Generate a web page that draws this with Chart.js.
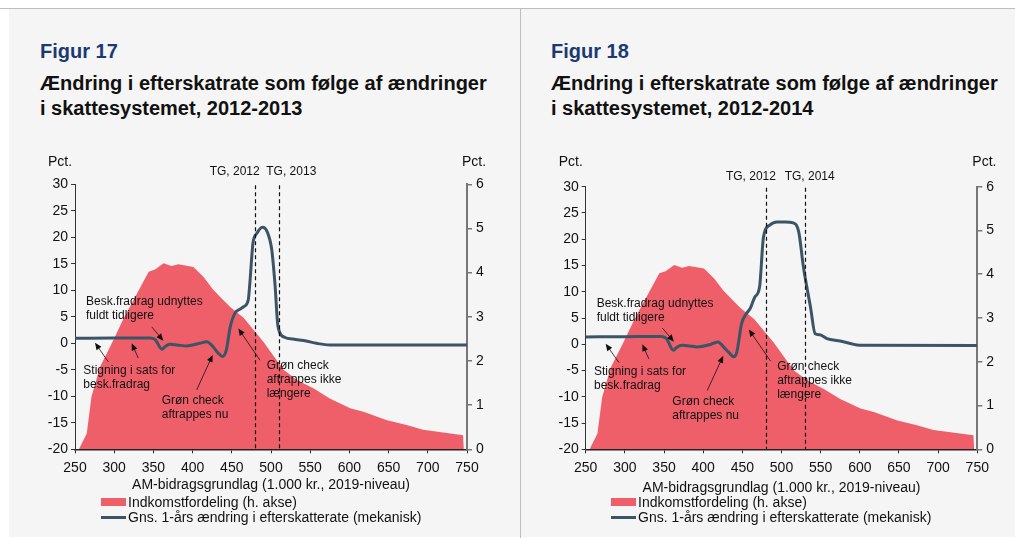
<!DOCTYPE html>
<html lang="da">
<head>
<meta charset="UTF-8">
<title>Figur 17 og 18</title>
<script src="https://cdn.jsdelivr.net/npm/chart.js"></script>
<style>
    body {
        margin: 0;
        width: 1015px;
        height: 538px;
        background: #fff;
        font-family: "Liberation Sans", Arial, sans-serif;
        position: relative;
        overflow: hidden;
    }
    .topline { position: absolute; left: 0; top: 8px; width: 1015px; height: 1px; background: #bdbdbd; }
    .panel { position: absolute; top: 9px; height: 528px; background: #f5f5f5; }
    .sep { position: absolute; left: 520px; top: 9px; width: 1px; height: 529px; background: #bdbdbd; }
    .fig { position: absolute; font-size: 20px; font-weight: bold; color: #1b3a73; line-height: 25px; }
    .title { position: absolute; font-size: 20px; font-weight: bold; color: #111; line-height: 25px; white-space: nowrap; }
    canvas { position: absolute; }
    .legend { position: absolute; font-size: 14px; color: #111; }
    .legend div { position: relative; height: 15px; line-height: 15px; padding-left: 27px; white-space: nowrap; }
    .sw-area { position: absolute; left: 0; top: 3px; width: 25px; height: 8px; background: #ee5f6a; }
    .sw-line { position: absolute; left: 0; top: 6px; width: 25px; height: 3px; background: #3b5566; }
</style>
</head>
<body>
<div class="topline"></div>
<div class="panel" style="left:9px;width:511px"></div>
<div class="panel" style="left:521px;width:494px"></div>
<div class="sep"></div>

<div class="fig" style="left:40px;top:39px">Figur 17</div>
<div class="title" style="left:40px;top:71px">Ændring i efterskatrate som følge af ændringer<br>i skattesystemet, 2012-2013</div>
<canvas id="fig17" width="490" height="347" style="left:20px;top:150px"></canvas>
<div class="legend" style="left:101px;top:495px">
    <div><span class="sw-area"></span>Indkomstfordeling (h. akse)</div>
    <div><span class="sw-line"></span>Gns. 1-års ændring i efterskatterate (mekanisk)</div>
</div>

<div class="fig" style="left:551px;top:39px">Figur 18</div>
<div class="title" style="left:551px;top:71px">Ændring i efterskatrate som følge af ændringer<br>i skattesystemet, 2012-2014</div>
<canvas id="fig18" width="484" height="350" style="left:531px;top:150px"></canvas>
<div class="legend" style="left:611px;top:495px">
    <div><span class="sw-area"></span>Indkomstfordeling (h. akse)</div>
    <div><span class="sw-line"></span>Gns. 1-års ændring i efterskatterate (mekanisk)</div>
</div>

<script>
// indkomstfordeling (h. akse), 1.000 kr. og pct.
const incomeX = [255, 265, 271, 282, 297, 312, 320, 344, 352, 363, 373, 382, 401, 414, 426, 439, 448, 465,
    490, 507, 516, 533, 554, 575, 601, 618, 648, 673, 694, 745, 746];
const incomeShare = [0, 0.36, 1.19, 1.87, 2.4, 2.96, 3.23, 4.02, 4.07, 4.21, 4.15, 4.19, 4.13, 3.9, 3.62, 3.38, 3.22, 2.98,
    2.44, 2.02, 1.8, 1.57, 1.38, 1.15, 0.93, 0.85, 0.66, 0.55, 0.44, 0.32, 0];

// gns. ændring i efterskatterate, 2012-2013
const rateX17 = [250, 300, 346, 352, 361, 365, 371, 380, 392, 409, 418, 424, 433, 438, 443, 448, 454, 460, 465,
    471, 473, 477, 482, 489, 495, 501, 505, 509, 518, 528, 545, 558, 575, 750];
const rate17 = [0.95, 0.98, 1.0, 0.75, -1.1, -0.6, -0.2, -0.3, -0.5, 0, 0.3, -0.3, -1.9, -2.5, -1.3, 3.1, 5.7, 6.4, 6.9,
    8.2, 11.3, 18.9, 20.75, 21.9, 21.1, 17.6, 11.3, 3.1, 1.1, 0.8, 0.43, 0, -0.32, -0.32];

// gns. ændring i efterskatterate, 2012-2014
const rateX18 = [250, 300, 347, 353, 362, 366, 373, 392, 410, 419, 426, 433, 439, 443, 449, 455, 460, 466, 472,
    477, 485, 494, 505, 515, 522, 528, 537, 543, 549, 558, 575, 588, 600, 750];
const rate18 = [1.4, 1.45, 1.5, 1.08, -1.14, -0.6, -0.19, -0.5, 0, 0.44, -0.5, -1.6, -2.4, -1.46, 3.9, 5.8, 6.8, 9.0, 10.9,
    20.4, 22.7, 23.3, 23.3, 23.1, 21.4, 14.7, 7.1, 2.0, 1.8, 1.08, 0.63, 0.13, -0.2, -0.25];

const xTicks = [250, 750, 50];
const leftTicks = [-20, 30, 5];
const rightTicks = [0, 6, 1];

const FONT = '"Liberation Sans", Arial, sans-serif';
Chart.defaults.font.family = FONT;
Chart.defaults.font.size = 14;
Chart.defaults.color = '#111';

function drawArrow(ctx, x1, y1, x2, y2) {
    const ang = Math.atan2(y2 - y1, x2 - x1);
    const hl = 7, hw = 3;
    ctx.beginPath();
    ctx.moveTo(x1, y1);
    ctx.lineTo(x2 - Math.cos(ang) * hl * 0.8, y2 - Math.sin(ang) * hl * 0.8);
    ctx.stroke();
    ctx.beginPath();
    ctx.moveTo(x2, y2);
    ctx.lineTo(x2 - Math.cos(ang) * hl - Math.sin(ang) * hw, y2 - Math.sin(ang) * hl + Math.cos(ang) * hw);
    ctx.lineTo(x2 - Math.cos(ang) * hl + Math.sin(ang) * hw, y2 - Math.sin(ang) * hl - Math.cos(ang) * hw);
    ctx.closePath();
    ctx.fill();
}

const annotate = {
    id: 'annotate',
    afterDatasetsDraw(chart, args, opts) {
        const {ctx, chartArea, scales: {x, y}} = chart;
        ctx.save();
        ctx.fillStyle = '#111';
        ctx.strokeStyle = '#111';

        // TG-linjer
        ctx.lineWidth = 1.2;
        ctx.setLineDash([4, 3]);
        opts.markers.forEach(m => {
            const px = Math.round(x.getPixelForValue(m.at)) + 0.5;
            ctx.beginPath();
            ctx.moveTo(px, chartArea.top + 1);
            ctx.lineTo(px, chartArea.bottom);
            ctx.stroke();
        });
        ctx.setLineDash([]);
        ctx.font = '12px ' + FONT;
        ctx.textAlign = 'center';
        ctx.textBaseline = 'middle';
        opts.markers.forEach(m => {
            ctx.fillText(m.label, x.getPixelForValue(m.labelAt), chartArea.top - opts.markerGap);
        });

        // Pct.
        ctx.font = '14px ' + FONT;
        ctx.textAlign = 'left';
        ctx.fillText('Pct.', chartArea.left - 27, chartArea.top - opts.pctGap);
        ctx.fillText('Pct.', chartArea.right - 5, chartArea.top - opts.pctGap);

        // noter
        ctx.font = '12px ' + FONT;
        opts.notes.forEach(n => {
            const px = x.getPixelForValue(n.x), py = y.getPixelForValue(n.y);
            n.lines.forEach((t, i) => ctx.fillText(t, px, py + i * 14));
        });
        ctx.lineWidth = 0.8;
        opts.arrows.forEach(a => {
            drawArrow(ctx, x.getPixelForValue(a[0]), y.getPixelForValue(a[1]),
                x.getPixelForValue(a[2]), y.getPixelForValue(a[3]));
        });
        ctx.restore();
    }
};

const notes = [
    {x: 264, y: 7.8, lines: ['Besk.fradrag udnyttes', 'fuldt tidligere']},
    {x: 260.6, y: -5.2, lines: ['Stigning i sats for', 'besk.fradrag']},
    {x: 360.6, y: -10.9, lines: ['Grøn check', 'aftrappes nu']},
    {x: 494.5, y: -4.2, lines: ['Grøn check', 'aftrappes ikke', 'længere']}
];
const arrows = [
    [347.8, 3.1, 362.6, 0.5],
    [292.5, -3.5, 275.5, 0.1],
    [330.7, -2.8, 322.3, 0],
    [405.2, -8.8, 425.6, -2.2],
    [486, -3.2, 458.3, 2.8]
];

function makeChart(id, rateX, rate, sizes, markers) {
    const ctx = document.getElementById(id).getContext('2d');
    return new Chart(ctx, {
        type: 'line',
        data: {
            datasets: [
                {
                    label: 'Gns. 1-års ændring i efterskatterate (mekanisk)',
                    data: rateX.map((v, i) => ({x: v, y: rate[i]})),
                    yAxisID: 'y',
                    borderColor: '#3b5566',
                    borderWidth: 3,
                    pointRadius: 0,
                    cubicInterpolationMode: 'monotone',
                    fill: false,
                    order: 1
                },
                {
                    label: 'Indkomstfordeling (h. akse)',
                    data: incomeX.map((v, i) => ({x: v, y: incomeShare[i]})),
                    yAxisID: 'y2',
                    borderWidth: 0,
                    backgroundColor: '#ee5f6a',
                    pointRadius: 0,
                    tension: 0,
                    fill: 'origin',
                    order: 2
                }
            ]
        },
        options: {
            responsive: false,
            animation: false,
            layout: {padding: {top: sizes.top, left: 0, right: 0, bottom: 0}},
            plugins: {
                legend: {display: false},
                tooltip: {enabled: false},
                annotate: {markers: markers.lines, markerGap: markers.gap, pctGap: sizes.pctGap, notes: notes, arrows: arrows}
            },
            scales: {
                x: {
                    type: 'linear',
                    min: xTicks[0], max: xTicks[1],
                    ticks: {stepSize: xTicks[2], padding: 6, font: {size: 14}},
                    grid: {drawOnChartArea: false, tickLength: 4, color: '#222', lineWidth: 1},
                    border: {color: '#222', width: 1.5},
                    title: {display: true, text: 'AM-bidragsgrundlag (1.000 kr., 2019-niveau)', padding: {top: 0, bottom: sizes.titlePad}, font: {size: 14}, color: '#111'},
                    afterFit: s => { s.height = sizes.xh; }
                },
                y: {
                    position: 'left',
                    min: leftTicks[0], max: leftTicks[1],
                    ticks: {stepSize: leftTicks[2], padding: 3, font: {size: 14}},
                    grid: {drawOnChartArea: false, tickLength: 4, color: '#333', lineWidth: 1},
                    border: {color: '#333', width: 1},
                    afterFit: s => { s.width = sizes.lw; }
                },
                y2: {
                    position: 'right',
                    min: rightTicks[0], max: rightTicks[1],
                    ticks: {stepSize: rightTicks[2], padding: 4, font: {size: 14}},
                    grid: {drawOnChartArea: false, tickLength: 5, color: '#777', lineWidth: 1.5},
                    border: {color: '#777', width: 2},
                    afterFit: s => { s.width = sizes.rw; }
                }
            }
        },
        plugins: [annotate]
    });
}

makeChart('fig17', rateX17, rate17,
    {top: 34.3, lw: 55, rw: 43, xh: 47.7, titlePad: 3.6, pctGap: 22.6},
    {gap: 12.6, lines: [{at: 480, label: 'TG, 2012', labelAt: 453.7}, {at: 510, label: 'TG, 2013', labelAt: 525.9}]});

makeChart('fig18', rateX18, rate18,
    {top: 36.7, lw: 54.7, rw: 37.7, xh: 50.7, titlePad: 3.9, pctGap: 25},
    {gap: 10, lines: [{at: 480, label: 'TG, 2012', labelAt: 461}, {at: 530, label: 'TG, 2014', labelAt: 536}]});
</script>
</body>
</html>
